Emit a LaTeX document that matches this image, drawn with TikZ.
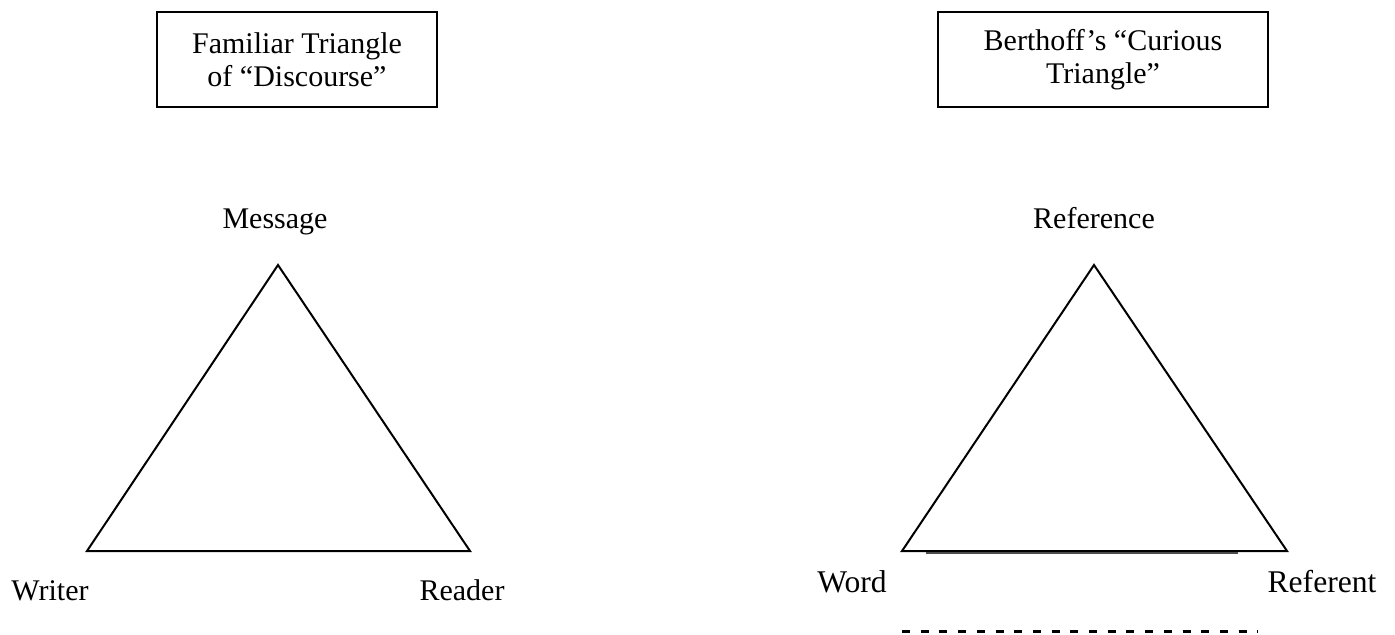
\documentclass[tikz,border=0pt]{standalone}
\usepackage{fontspec}
\setmainfont{Liberation Serif}
\begin{document}
\begin{tikzpicture}[x=0.5pt,y=-0.5pt,
  titlebox/.style={draw,line width=1.2pt,minimum height=47.5pt,align=center,inner sep=0pt,font=\fontsize{15}{16.5}\selectfont},
  lbl/.style={anchor=base,font=\fontsize{15}{18}\selectfont,inner sep=0pt},
  lblb/.style={lbl,font=\fontsize{15.8}{18}\selectfont},
  tri/.style={line width=1pt,line join=miter}]
\useasboundingbox (0,0) rectangle (1395,634);
% title boxes
\node[titlebox,minimum width=140pt] (t1) at (297,59.5) {Familiar Triangle\\of “Discourse”};
\node[titlebox,minimum width=165pt] (t2) at (1103,59.5) {Berthoff’s “Curious\\Triangle”\vphantom{g}};
% left triangle
\coordinate (m) at (278,265);
\coordinate (w) at (87,551);
\coordinate (r) at (470,551);
\draw[tri] (m) -- (w) -- (r) -- cycle;
\node[lbl] (lm) at (275,228) {Message};
\node[lbl] (lw) at (50,600) {Writer};
\node[lbl] (lr) at (462,600) {Reader};
% right triangle
\coordinate (rf) at (1094,265);
\coordinate (wd) at (902,551);
\coordinate (rt) at (1287,551);
\draw[tri] (rf) -- (wd) -- (rt) -- cycle;
\coordinate (b1) at (926,553);
\coordinate (b2) at (1238,553);
\draw[line width=0.6pt,black!70] (b1) -- (b2);
\node[lbl] (lrf) at (1094,228) {Reference};
\node[lblb] (lwd) at (852,592) {Word};
\node[lblb] (lrt) at (1322,592) {Referent};
% dashed line
\coordinate (d1) at (902,631);
\coordinate (d2) at (1258,631);
\draw[line width=1.5pt,dash pattern=on 4pt off 5.35pt] (d1) -- (d2);
\end{tikzpicture}
\end{document}
